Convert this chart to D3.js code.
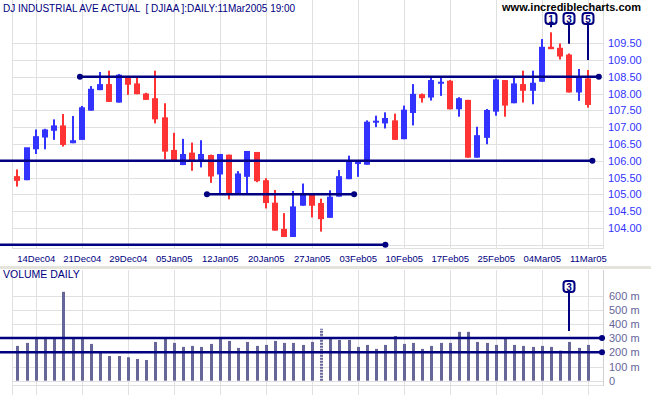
<!DOCTYPE html>
<html>
<head>
<meta charset="utf-8">
<script src="https://cdn.jsdelivr.net/npm/d3@7"></script>
<style>
  body { margin: 0; background: #fff; }
  text { font-family: Arial, "Liberation Sans", sans-serif; }
</style>
</head>
<body>
<div id="chart"></div>
<script>
// daily bars, 10 Dec 2004 .. 11 Mar 2005
var dates = ["10Dec04","13Dec04","14Dec04","15Dec04","16Dec04","17Dec04","20Dec04","21Dec04","22Dec04","23Dec04",
  "27Dec04","28Dec04","29Dec04","30Dec04","31Dec04","03Jan05","04Jan05","05Jan05","06Jan05","07Jan05",
  "10Jan05","11Jan05","12Jan05","13Jan05","14Jan05","18Jan05","19Jan05","20Jan05","21Jan05","24Jan05",
  "25Jan05","26Jan05","27Jan05","28Jan05","31Jan05","01Feb05","02Feb05","03Feb05","04Feb05","07Feb05",
  "08Feb05","09Feb05","10Feb05","11Feb05","14Feb05","15Feb05","16Feb05","17Feb05","18Feb05","22Feb05",
  "23Feb05","24Feb05","25Feb05","28Feb05","01Mar05","02Mar05","03Mar05","04Mar05","07Mar05","08Mar05",
  "09Mar05","10Mar05","11Mar05"];
var open = [105.54,105.42,106.34,106.69,106.89,107.05,106.52,106.62,107.49,108.10,
  108.28,107.73,108.52,108.30,108.00,107.86,107.29,106.32,105.87,106.24,
  105.97,106.17,105.59,106.18,105.03,105.52,106.26,105.42,104.75,103.97,
  103.73,104.66,105.00,104.74,104.30,104.93,105.45,105.92,105.88,107.16,
  107.11,107.20,106.64,107.42,107.98,107.88,108.30,108.38,107.53,107.81,
  106.09,106.68,107.46,108.40,107.71,108.28,108.08,108.35,109.39,109.36,
  109.16,108.03,108.45];
var high = [105.74,105.45,106.93,106.95,107.23,107.39,107.33,107.63,108.22,108.64,
  108.68,108.58,108.52,108.48,108.02,108.68,107.71,106.83,106.65,106.54,
  106.61,106.18,106.20,106.18,105.69,106.29,106.26,105.48,105.13,104.44,
  105.10,105.32,105.00,104.87,105.12,105.72,106.15,105.98,107.20,107.34,
  107.44,107.40,107.64,108.28,108.00,108.52,108.52,108.40,107.89,107.81,
  107.01,107.54,108.45,108.40,108.52,108.68,108.68,109.62,109.82,109.49,
  109.19,108.73,108.70];
var low = [105.23,105.42,106.20,106.34,106.62,106.42,106.52,106.62,107.49,108.10,
  107.75,107.73,107.96,107.98,107.81,107.11,106.04,105.97,105.87,105.70,
  105.80,105.34,105.00,104.85,105.03,105.00,105.36,104.58,103.92,103.73,
  103.73,104.66,104.31,103.89,104.30,104.93,105.45,105.52,105.88,107.00,
  106.96,106.62,106.64,107.05,107.73,107.79,107.93,107.53,107.31,106.09,
  106.09,106.49,107.34,107.31,107.71,107.73,107.68,108.35,109.32,109.01,
  108.03,107.78,107.58];
var close = [105.40,106.40,106.73,106.93,107.05,106.47,106.61,107.59,108.14,108.28,
  107.75,108.56,108.26,107.98,107.81,107.23,106.27,105.97,106.20,105.97,
  106.20,105.53,106.20,105.03,105.62,106.29,105.39,104.74,103.92,103.73,
  104.64,105.03,104.66,104.26,104.93,105.54,106.00,105.96,107.16,107.19,
  107.27,106.62,107.52,107.99,107.86,108.40,108.35,107.53,107.86,106.09,
  106.76,107.51,108.42,107.64,108.30,108.08,108.32,109.39,109.32,109.10,
  108.03,108.50,107.66];
// volume in millions
var volume = [245,266,308,308,304,626,304,304,259,202,
  174,174,165,153,146,273,304,266,238,245,
  238,259,308,280,231,273,245,252,280,266,
  266,252,273,365,301,287,287,238,252,224,
  252,315,259,266,224,245,266,266,344,344,
  273,266,252,294,252,245,238,245,238,212,
  273,231,252];

var dateTicks = [2,7,12,17,22,27,32,37,42,47,52,57,62];
var priceTicks = [104,104.5,105,105.5,106,106.5,107,107.5,108,108.5,109,109.5];
var volTicks = [0,100,200,300,400,500,600];

// trend lines drawn on the chart
var priceLines = [
  {p: 108.5, from: 6.8, to: 63.2, dotL: true, dotR: true},
  {p: 106.0, from: -2, to: 62.5, dotL: false, dotR: true},
  {p: 105.0, from: 20.6, to: 36.6, dotL: true, dotR: true},
  {p: 103.5, from: -2, to: 40.0, dotL: false, dotR: true}
];
var volLines = [300, 200];
// numbered markers
var markers = [
  {i: 58, n: "1", endP: 109.97},
  {i: 60, n: "3", endP: 109.48},
  {i: 62, n: "5", endP: 109.0}
];
var volMarker = {i: 60, n: "3", endV: 350};

var w = 651, h = 395;
var left = 12, right = 603;

var svg = d3.select("#chart").append("svg")
  .attr("width", w)
  .attr("height", h);

svg.append("rect").attr("width", w).attr("height", h).attr("fill", "white");

var x = d3.scaleLinear().domain([0, 62]).range([17.4, 587.8]);
var y = d3.scaleLinear().domain([103.5, 109.5]).range([244.7, 43.1]);
var yv = d3.scaleLinear().domain([0, 600]).range([380.7, 295.5]);

var navy = "#000080", blue = "#3333ff", red = "#ff3333", grid = "#e0e0e0";

// ---------- price panel ----------
var gp = svg.append("g");

gp.selectAll(".hgrid").data(priceTicks.concat([103.5])).enter().append("line")
  .attr("x1", left).attr("x2", right)
  .attr("y1", d => Math.round(y(d)) + 0.5).attr("y2", d => Math.round(y(d)) + 0.5)
  .attr("stroke", grid);

gp.selectAll(".vgrid").data(dateTicks).enter().append("line")
  .attr("x1", d => Math.round(x(d)) + 0.5).attr("x2", d => Math.round(x(d)) + 0.5)
  .attr("y1", 0).attr("y2", 249)
  .attr("stroke", grid);

gp.append("line").attr("x1", left + 0.5).attr("x2", left + 0.5).attr("y1", 0).attr("y2", 249).attr("stroke", grid);
gp.append("line").attr("x1", right + 0.5).attr("x2", right + 0.5).attr("y1", 0).attr("y2", 249).attr("stroke", grid);
gp.append("line").attr("x1", left).attr("x2", right).attr("y1", 248.5).attr("y2", 248.5).attr("stroke", grid);

// price axis labels
var yAxis = d3.axisRight(y).tickValues(priceTicks).tickFormat(d3.format(".2f")).tickSize(0).tickPadding(5);
var ya = gp.append("g").attr("transform", `translate(${right}, 0)`).call(yAxis);
ya.select(".domain").remove();
ya.selectAll("text").attr("fill", blue).style("font-size", "11px");

// date labels
var xAxis = d3.axisBottom(x).tickValues(dateTicks).tickFormat(i => dates[i]).tickSize(0).tickPadding(5);
var xa = gp.append("g").attr("transform", "translate(0, 250)").call(xAxis);
xa.select(".domain").remove();
xa.selectAll("text").attr("fill", navy).style("font-size", "9.5px");

// candles
var idx = d3.range(dates.length);
var col = i => close[i] >= open[i] ? blue : red;

gp.selectAll(".wick").data(idx).enter().append("rect")
  .attr("x", i => Math.round(x(i)) - 1)
  .attr("width", 2)
  .attr("y", i => y(high[i]))
  .attr("height", i => Math.max(1, y(low[i]) - y(high[i])))
  .attr("fill", col);

gp.selectAll(".body").data(idx).enter().append("rect")
  .attr("x", i => Math.round(x(i)) - 3)
  .attr("width", 6)
  .attr("y", i => y(Math.max(open[i], close[i])))
  .attr("height", i => Math.max(2, Math.abs(y(open[i]) - y(close[i]))))
  .attr("fill", col);

// horizontal trend lines
priceLines.forEach(function (l) {
  var x1 = Math.max(0, x(l.from)), x2 = x(l.to);
  gp.append("line").attr("x1", x1).attr("x2", x2).attr("y1", y(l.p)).attr("y2", y(l.p))
    .attr("stroke", navy).attr("stroke-width", 2.5);
  if (l.dotL) gp.append("circle").attr("cx", x1).attr("cy", y(l.p)).attr("r", 3).attr("fill", navy);
  if (l.dotR) gp.append("circle").attr("cx", x2).attr("cy", y(l.p)).attr("r", 3).attr("fill", navy);
});

function drawMarker(g, cx, top, yEnd, label) {
  var size = 11;
  g.append("line").attr("x1", cx).attr("x2", cx).attr("y1", top + size).attr("y2", yEnd)
    .attr("stroke", navy).attr("stroke-width", 2);
  g.append("rect").attr("x", cx - size / 2).attr("y", top).attr("width", size).attr("height", size)
    .attr("rx", 3).attr("fill", "white").attr("stroke", navy).attr("stroke-width", 2);
  g.append("text").attr("x", cx).attr("y", top + size / 2 + 4).attr("text-anchor", "middle")
    .attr("fill", navy).style("font-size", "10px").style("font-weight", "bold").text(label);
}
markers.forEach(m => drawMarker(gp, Math.round(x(m.i)), 13, y(m.endP), m.n));

// titles
svg.append("text").attr("x", 3).attr("y", 12).attr("fill", navy).style("font-size", "10px")
  .style("white-space", "pre")
  .text("DJ INDUSTRIAL AVE ACTUAL  [ DJIAA ]:DAILY:11Mar2005 19:00");
svg.append("text").attr("x", 641).attr("y", 11).attr("text-anchor", "end").attr("fill", "black")
  .style("font-size", "11px").style("font-weight", "bold").text("www.incrediblecharts.com");

// separator
svg.append("rect").attr("x", 0).attr("y", 266).attr("width", w).attr("height", 3).attr("fill", "#e4e4dc");

// ---------- volume panel ----------
var gv = svg.append("g");

gv.selectAll(".hgrid").data(volTicks).enter().append("line")
  .attr("x1", left).attr("x2", right)
  .attr("y1", d => Math.round(yv(d)) + 0.5).attr("y2", d => Math.round(yv(d)) + 0.5)
  .attr("stroke", grid);

gv.selectAll(".vgrid").data(dateTicks).enter().append("line")
  .attr("x1", d => Math.round(x(d)) + 0.5).attr("x2", d => Math.round(x(d)) + 0.5)
  .attr("y1", 270).attr("y2", h)
  .attr("stroke", grid);
gv.append("line").attr("x1", left + 0.5).attr("x2", left + 0.5).attr("y1", 270).attr("y2", h).attr("stroke", grid);
gv.append("line").attr("x1", right + 0.5).attr("x2", right + 0.5).attr("y1", 270).attr("y2", 386).attr("stroke", "#d0d0d0");
gv.append("line").attr("x1", left).attr("x2", right).attr("y1", 385.5).attr("y2", 385.5).attr("stroke", grid);

var vAxis = d3.axisRight(yv).tickValues(volTicks).tickFormat(d => d === 0 ? "0" : d + " m").tickSize(0).tickPadding(6);
var va = gv.append("g").attr("transform", `translate(${right}, 0)`).call(vAxis);
va.select(".domain").remove();
va.selectAll("text").attr("fill", "#666699").style("font-size", "11px");

gv.selectAll(".vbar").data(idx).enter().append("line")
  .attr("x1", i => Math.round(x(i)) + 0.5).attr("x2", i => Math.round(x(i)) + 0.5)
  .attr("y1", yv(0)).attr("y2", i => yv(volume[i]))
  .attr("stroke", "#666699").attr("stroke-width", 3)
  .attr("stroke-dasharray", i => i === 33 ? "2,1" : null);

volLines.forEach(function (v) {
  gv.append("line").attr("x1", 0).attr("x2", 602).attr("y1", yv(v)).attr("y2", yv(v))
    .attr("stroke", navy).attr("stroke-width", 2.5);
  gv.append("circle").attr("cx", 602).attr("cy", yv(v)).attr("r", 3).attr("fill", navy);
});

drawMarker(gv, Math.round(x(volMarker.i)), 281, yv(volMarker.endV), volMarker.n);

svg.append("text").attr("x", 3).attr("y", 278).attr("fill", navy).style("font-size", "10.5px")
  .text("VOLUME DAILY");
</script>
</body>
</html>
